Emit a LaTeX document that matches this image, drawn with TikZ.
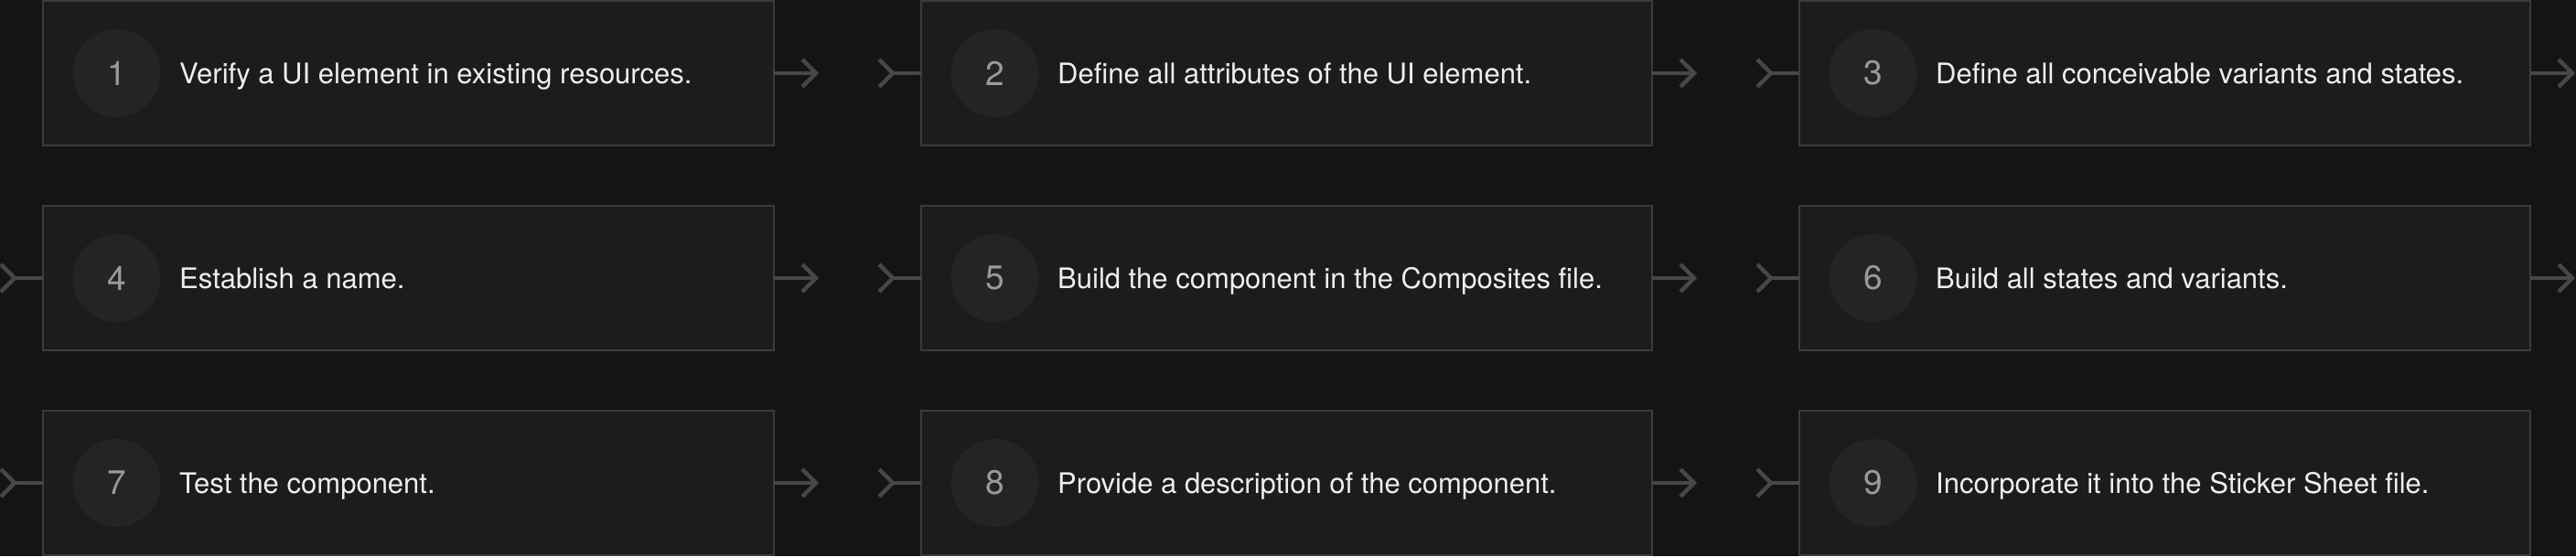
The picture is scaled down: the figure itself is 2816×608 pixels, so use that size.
\documentclass[tikz,border=0pt]{standalone}
\usepackage{fontspec}
\setmainfont{TeX Gyre Heros}
\usetikzlibrary{calc}
\definecolor{bgc}{HTML}{141414}
\definecolor{boxfill}{HTML}{1C1C1C}
\definecolor{boxline}{HTML}{3B3B3B}
\definecolor{circfill}{HTML}{242424}
\definecolor{numc}{HTML}{9B9B9B}
\definecolor{txtc}{HTML}{EEEEEE}
\definecolor{arrc}{HTML}{474747}
\tikzset{
  stepbox/.style={draw=boxline, fill=boxfill, line width=2pt, minimum width=799pt, minimum height=158pt, inner sep=0pt, outer sep=0pt},
  numcirc/.style={circle, fill=circfill, minimum size=96pt, inner sep=0pt, outer sep=0pt},
  numtxt/.style={text=numc, font=\fontsize{37}{40}\selectfont, inner sep=0pt},
  steptxt/.style={text=txtc, font=\fontsize{31}{36}\selectfont, inner sep=0pt, anchor=base west},
  stub/.style={draw=arrc, line width=4.5pt, line cap=butt, line join=miter}
}
\begin{document}
\begin{tikzpicture}[x=1pt, y=-1pt]
\fill[bgc] (0,0) rectangle (2816,608);
\useasboundingbox (0,0) rectangle (2816,608);
\foreach \r/\c/\n/\t in {
  0/0/1/{Verify a UI element in existing resources.},
  0/1/2/{Define all attributes of the UI element.},
  0/2/3/{Define all conceivable variants and states.},
  1/0/4/{Establish a name.},
  1/1/5/{Build the component in the Composites file.},
  1/2/6/{Build all states and variants.},
  2/0/7/{Test the component.},
  2/1/8/{Provide a description of the component.},
  2/2/9/{Incorporate it into the Sticker Sheet file.}}{
  \pgfmathsetmacro{\xl}{47+960*\c}
  \pgfmathsetmacro{\yc}{80+224*\r}
  \node[stepbox] (b\n) at (\xl+399.5,\yc) {};
  \node[numcirc] (c\n) at (\xl+80.5,\yc) {};
  \node[numtxt] (n\n) at (c\n.center) {\n};
  \node[steptxt] (t\n) at (\xl+149,\yc+11.2) {\t};
}
% outgoing arrow stubs
\foreach \n in {1,...,8}{
  \draw[stub] (b\n.east) -- ($(b\n.east)+(45,0)$);
  \draw[stub] ($(b\n.east)+(31,-15)$) -- ($(b\n.east)+(46,0)$) -- ($(b\n.east)+(31,15)$);
}
% incoming tails
\foreach \n in {2,...,9}{
  \coordinate (v\n) at ($(b\n.west)+(-31,0)$);
  \draw[stub] (v\n) -- (b\n.west);
  \draw[stub] ($(v\n)+(-15,-15)$) -- (v\n) -- ($(v\n)+(-15,15)$);
}
\end{tikzpicture}
\end{document}
